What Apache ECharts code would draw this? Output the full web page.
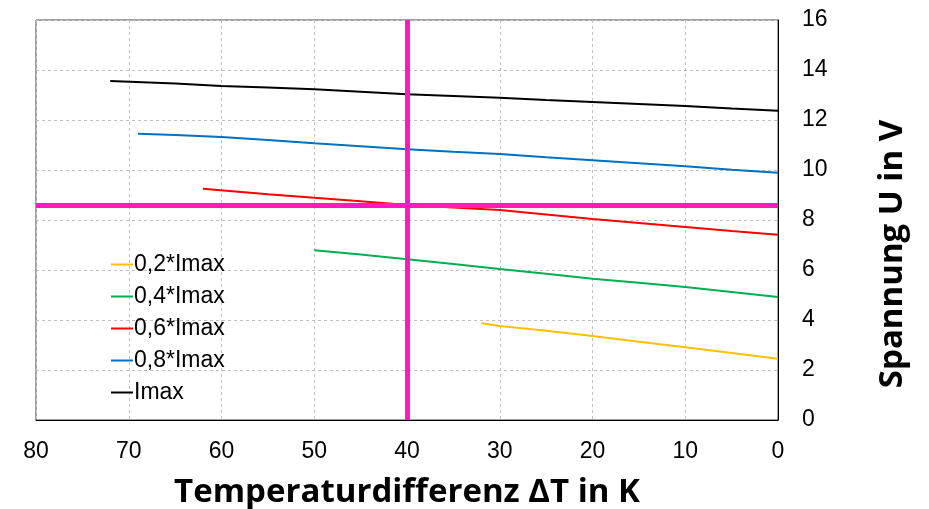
<!DOCTYPE html>
<html><head><meta charset="utf-8">
<script src="https://cdn.jsdelivr.net/npm/echarts@6/dist/echarts.min.js"></script>
<style>html,body{margin:0;padding:0;background:#fff}#c{width:929px;height:509px}</style>
</head><body><div id="c"></div>
<script>
const xTicks = [0,10,20,30,40,50,60,70,80];
const yTicks = [0,2,4,6,8,10,12,14,16];
const names = ['0,2*Imax','0,4*Imax','0,6*Imax','0,8*Imax','Imax'];
const colors = ['#FFC000','#00B050','#FF0000','#0070C0','#000000'];
const dT_02 = [32, 30, 25, 20, 15, 10, 5, 0];
const U_02  = [3.87, 3.76, 3.57, 3.36, 3.13, 2.91, 2.68, 2.45];
const dT_04 = [50, 45, 40, 35, 30, 25, 20, 15, 10, 5, 0];
const U_04  = [6.79, 6.62, 6.43, 6.24, 6.04, 5.85, 5.65, 5.49, 5.32, 5.12, 4.92];
const dT_06 = [62, 55, 50, 45, 40, 35, 30, 25, 20, 15, 10, 5, 0];
const U_06  = [9.25, 9.03, 8.89, 8.75, 8.6, 8.5, 8.4, 8.22, 8.04, 7.88, 7.72, 7.56, 7.41];
const dT_08 = [69, 65, 60, 55, 50, 45, 40, 35, 30, 25, 20, 15, 10, 5, 0];
const U_08  = [11.45, 11.40, 11.32, 11.20, 11.07, 10.95, 10.83, 10.73, 10.64, 10.51, 10.39, 10.27, 10.15, 10.01, 9.89];
const dT_10 = [72, 65, 60, 55, 50, 45, 40, 35, 30, 25, 20, 15, 10, 5, 0];
const U_10  = [13.56, 13.46, 13.36, 13.30, 13.23, 13.13, 13.03, 12.96, 12.89, 12.80, 12.72, 12.64, 12.56, 12.46, 12.37];
const markX = 40;
const markY = 8.6;

const xs = [dT_02, dT_04, dT_06, dT_08, dT_10];
const ys = [U_02, U_04, U_06, U_08, U_10];
const series = names.map((n, i) => ({
  name: n, type: 'line', showSymbol: false, symbol: 'none',
  data: xs[i].map((x, j) => [x, ys[i][j]]),
  lineStyle: { color: colors[i], width: 2 }, itemStyle: { color: colors[i] },
  z: 3
}));
series.push({
  name: 'marks', type: 'line', data: [], silent: true, z: 5,
  markLine: {
    silent: true, symbol: 'none', label: { show: false },
    lineStyle: { color: '#FF1ABF', width: 5, type: 'solid' },
    data: [{ xAxis: markX }, { yAxis: markY }]
  }
});

const chart = echarts.init(document.getElementById('c'), null, { renderer: 'canvas' });
chart.setOption({
  animation: false,
  backgroundColor: '#fff',
  grid: { left: 36, right: 151, top: 20, bottom: 89, show: true, borderColor: '#444', borderWidth: 1,
    containLabel: false, outerBoundsMode: 'none' },
  legend: {
    data: names, orient: 'vertical', left: 106, top: 248, itemGap: 9,
    itemWidth: 22, itemHeight: 2, icon: 'rect',
    textStyle: { fontFamily: 'Liberation Sans, Arial', fontSize: 23, lineHeight: 23, color: '#000', padding: [0, 0, 0, -4] }
  },
  xAxis: {
    type: 'value', inverse: true, min: 0, max: 80, interval: 10,
    name: 'Temperaturdifferenz ΔT in K', nameLocation: 'middle', nameGap: 56,
    nameTextStyle: { fontFamily: 'Open Sans', fontWeight: 'bold', fontSize: 33, color: '#000' },
    axisLine: { show: true, lineStyle: { color: '#000', width: 1 } },
    axisTick: { show: false },
    axisLabel: { fontFamily: 'Liberation Sans, Arial', fontSize: 23, color: '#000', margin: 20,
      formatter: v => xTicks.includes(v) ? String(v) : '' },
    splitLine: { show: true, lineStyle: { color: '#c0c0c0', type: [3, 3], width: 1 } }
  },
  yAxis: {
    type: 'value', position: 'right', min: 0, max: 16, interval: 2,
    name: 'Spannung U in V', nameLocation: 'middle', nameGap: 98, nameRotate: 90,
    nameTextStyle: { fontFamily: 'Open Sans', fontWeight: 'bold', fontSize: 33, color: '#000', padding: [0, 68, 0, 0] },
    axisLine: { show: true, lineStyle: { color: '#000', width: 1 } },
    axisTick: { show: false },
    axisLabel: { fontFamily: 'Liberation Sans, Arial', fontSize: 23, color: '#000', margin: 24,
      formatter: v => yTicks.includes(v) ? String(v) : '' },
    splitLine: { show: true, lineStyle: { color: '#c0c0c0', type: [3, 3], width: 1 } }
  },
  series: series
});
</script></body></html>
